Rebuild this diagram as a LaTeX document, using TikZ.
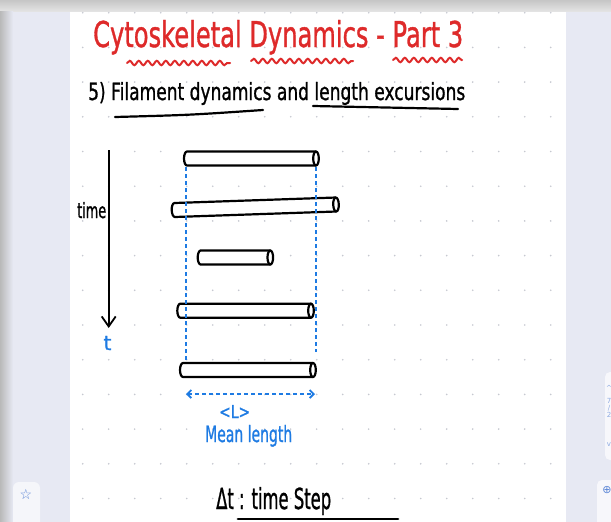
\documentclass[tikz,border=0pt]{standalone}
\usepackage{fontspec}
\setmainfont{DejaVu Sans}
\newfontfamily\pen[FakeBold=1.2]{DejaVu Sans}
\usepackage{graphicx}
\usepackage{xcolor}
\usetikzlibrary{arrows.meta}
\usetikzlibrary{decorations.pathmorphing}

\definecolor{inkred}{HTML}{DE2A2A}
\definecolor{inkblue}{HTML}{1E7BE3}
\definecolor{appbg}{HTML}{E7E9F3}
\definecolor{gridgray}{HTML}{C6C8D0}
\definecolor{iconblue}{HTML}{5C86D6}

\begin{document}
\begin{tikzpicture}[x=1pt, y=-1pt]
        % ================= 样式定义 =================
        \tikzset{
            % 细丝:白底黑边圆柱 (左端半椭圆, 右端整椭圆)
            fil/.style={draw=black, line width=2.2pt, fill=white},
            filament/.pic={
                \draw[fil] (#1,-7) -- (0,-7) arc (90:270:3pt and 7pt) -- (#1,7);
                \draw[fil] (#1,0) ellipse (2.8pt and 7pt);
            },
            % 蓝色虚线 (平均长度的边界)
            guide/.style={inkblue, line width=1.8pt, dash pattern=on 4pt off 3pt},
            % 手写文字 (基线对齐)
            hand/.style={inner sep=0pt, anchor=base west, font=\pen},
            % 红色波浪下划线
            wave/.style={decorate, decoration={snake, amplitude=2.2pt, segment length=9pt}, inkred, line width=2pt, line cap=round},
            ink/.style={line width=2.2pt, line cap=round}
        }
        \useasboundingbox (0,0) rectangle (611,522);

        % ================= 背景与页面 =================
        \fill[appbg] (0,0) rectangle (611,522);
        \shade[top color=gray!45, bottom color=gray!22] (0,0) rectangle (611,11);
        \shade[left color=gray!55, right color=appbg] (0,11) rectangle (13,522);
        \fill[white] (70,12) rectangle (566,522);

        % 侧边小面板
        \fill[white!60!appbg, rounded corners=6pt] (13,482) rectangle (40,540);
        \node[iconblue, font=\fontsize{14}{14}\selectfont] (star) at (26,494) {☆};
        \fill[white!65!appbg, rounded corners=5pt] (605,372) rectangle (625,460);
        \node[iconblue!70, font=\fontsize{7}{7}\selectfont, align=center, inner sep=0pt] (pg) at (609,416) {\^{}\\[6pt]7\\/\\2\\[22pt]v};
        \fill[white!65!appbg, rounded corners=5pt] (597,480) rectangle (625,540);
        \node[iconblue, font=\fontsize{11}{11}\selectfont] (plus) at (607,490) {⊕};

        % 点阵
        \foreach \i in {0,...,18}
            \foreach \j in {0,...,14}
                \fill[gridgray] (82.7+26*\i, 12.7+34.7*\j) circle (0.9pt);

        % ================= 标题 =================
        \node[hand, inkred] (title) at (93,47) {\resizebox{370pt}{27pt}{Cytoskeletal Dynamics - Part 3}};
        \draw[wave] (127,63) -- (230,63);
        \draw[wave] (251,61) -- (353,61);
        \draw[wave] (393,60) -- (462,60);

        \node[hand] (sub) at (88,100) {\resizebox{377pt}{18pt}{5) Filament dynamics and length excursions}};
        \coordinate (u1a) at (115,117);
        \coordinate (u1b) at (263,110);
        \coordinate (u2a) at (313,106);
        \coordinate (u2b) at (458,109);
        \draw[ink] (u1a) .. controls (190,115) .. (u1b);
        \draw[ink] (u2a) -- (u2b);

        % ================= 时间轴 =================
        \coordinate (t0) at (108.7,150);
        \coordinate (t1) at (108.7,328);
        \draw[line width=1.8pt, -{Straight Barb[length=10pt, width=14pt]}] (t0) -- (t1);
        \node[hand] (timelbl) at (77,218) {\resizebox{29pt}{16pt}{time}};
        \node[inkblue, font=\pen\fontsize{20}{20}\selectfont] (tlbl) at (107.5,343) {t};

        % ================= 细丝 =================
        \pic (f1) at (187,158.5) {filament=129};
        \pic[rotate=1.95] (f2) at (174.7,210) {filament=161.4};
        \pic (f3) at (200.7,257.5) {filament=69.6};
        \pic (f4) at (180.3,310.7) {filament=130.7};
        \pic (f5) at (183,370) {filament=130};

        % ================= 平均长度 <L> =================
        \coordinate (gl0) at (186,167);
        \coordinate (gl1) at (186,362);
        \coordinate (gr0) at (316,167);
        \coordinate (gr1) at (316,352);
        \coordinate (ml) at (186,394);
        \coordinate (mr) at (315,394);
        \draw[guide] (gl0) -- (gl1);
        \draw[guide] (gr0) -- (gr1);
        \draw[guide, {Straight Barb[length=4pt, width=8pt]}-{Straight Barb[length=4pt, width=8pt]}] (ml) -- (mr);
        \node[hand, inkblue] (avg) at (219,418) {\resizebox{31pt}{13pt}{<L>}};
        \node[hand, inkblue] (meanlbl) at (205,442) {\resizebox{87pt}{17pt}{Mean length}};

        % ================= 时间步长 =================
        \node[hand] (dtlbl) at (216,509) {\resizebox{115pt}{22pt}{Δt : time Step}};
        \coordinate (d0) at (238,519);
        \coordinate (d1) at (398,519);
        \draw[ink, line width=2.8pt] (d0) -- (d1);

    \end{tikzpicture}
\end{document}
